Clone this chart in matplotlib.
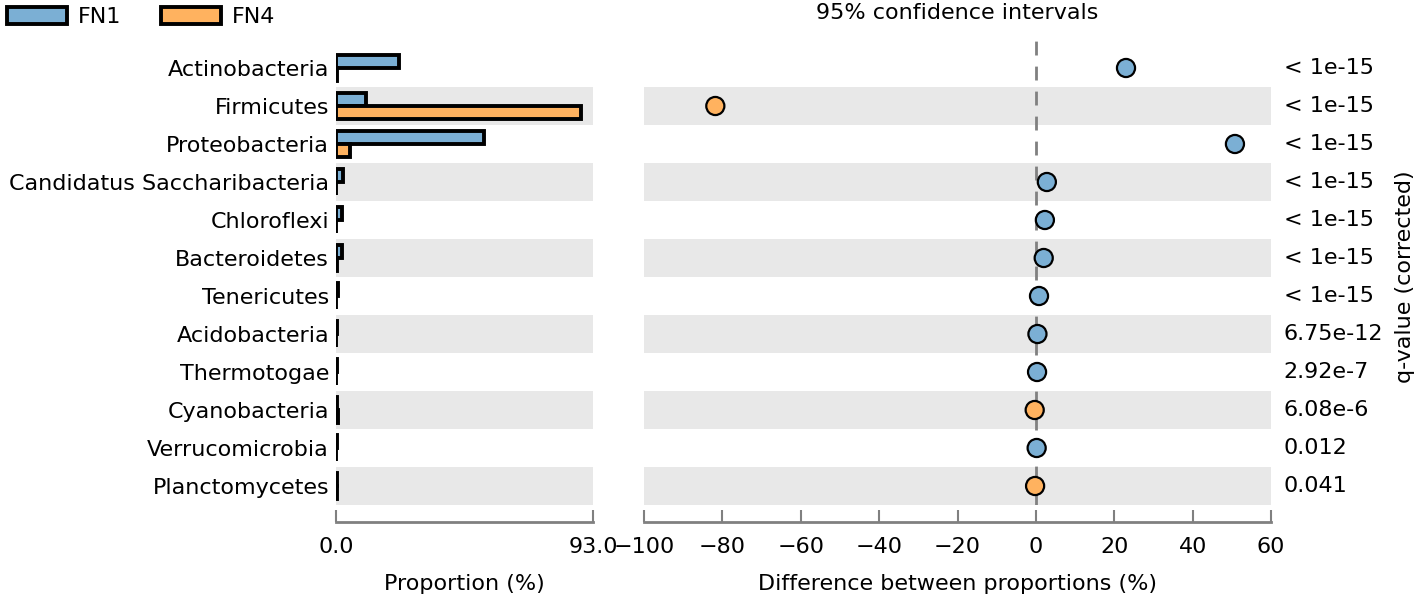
import numpy as np
import matplotlib
matplotlib.use("Agg")
import matplotlib.pyplot as plt
from matplotlib.patches import Patch

# phyla, top to bottom
taxa = ["Actinobacteria", "Firmicutes", "Proteobacteria", "Candidatus Saccharibacteria",
        "Chloroflexi", "Bacteroidetes", "Tenericutes", "Acidobacteria", "Thermotogae",
        "Cyanobacteria", "Verrucomicrobia", "Planctomycetes"]
fn1 = [22.8, 10.9, 53.6, 2.6, 2.0, 2.3, 0.8, 0.5, 0.3, 0.2, 0.2, 0.2]
fn4 = [0.2, 88.6, 5.2, 0.1, 0.1, 0.3, 0.1, 0.1, 0.05, 0.6, 0.05, 0.4]
diff = [23.0, -81.8, 50.8, 2.8, 2.3, 2.0, 0.8, 0.4, 0.3, -0.3, 0.2, -0.2]
ci_low = [22.5, -82.4, 50.2, 2.6, 2.1, 1.8, 0.7, 0.3, 0.2, -0.4, 0.1, -0.3]
ci_high = [23.5, -81.2, 51.4, 3.0, 2.5, 2.2, 0.9, 0.5, 0.4, -0.2, 0.3, -0.1]
qvals = ["< 1e-15"] * 7 + ["6.75e-12", "2.92e-7", "6.08e-6", "0.012", "0.041"]
prop_max = 93.0

blue = "#7BAFD4"
orange = "#FFB25F"
band = "#E8E8E8"
spine_col = "#808080"
fs = 16

plt.rcParams["font.family"] = "DejaVu Sans"
plt.rcParams["font.size"] = fs

fig = plt.figure(figsize=(14.18, 5.94), dpi=100)
W, H = 1418, 594
top_px, bot_px = 30, 505
ax1 = fig.add_axes([336 / W, 1 - bot_px / H, (593 - 336) / W, (bot_px - top_px) / H])
ax2 = fig.add_axes([644 / W, 1 - bot_px / H, (1271 - 644) / W, (bot_px - top_px) / H])

n = len(taxa)
y = np.arange(n)

for ax in (ax1, ax2):
    ax.set_ylim(n - 0.5, -1.0)
    for i in range(1, n, 2):
        ax.axhspan(i - 0.5, i + 0.5, color=band, zorder=0, lw=0)
    for s in ("left", "right", "top"):
        ax.spines[s].set_visible(False)
    ax.spines["bottom"].set_position(("outward", 12))
    ax.spines["bottom"].set_color(spine_col)
    ax.spines["bottom"].set_linewidth(2)
    ax.tick_params(axis="x", direction="in", length=9, width=1.5, color=spine_col, pad=11, labelsize=fs)
    ax.tick_params(axis="y", length=0)

# left: proportions
h = 0.33
ax1.barh(y - h / 2, fn1, height=h, color=blue, edgecolor="black", linewidth=2.8, zorder=2)
ax1.barh(y + h / 2, fn4, height=h, color=orange, edgecolor="black", linewidth=2.8, zorder=2)
ax1.set_xlim(0, prop_max)
ax1.set_xticks([0, prop_max])
ax1.set_xticklabels(["0.0", "93.0"])
ax1.set_yticks(y)
ax1.set_yticklabels(taxa, fontsize=fs)
ax1.tick_params(axis="y", pad=5)
ax1.set_xlabel("Proportion (%)", fontsize=fs, labelpad=12)

# right: difference with CI
ax2.axvline(0, color="#808080", ls=(0, (5, 4)), lw=2, zorder=1)
cols = [blue if d > 0 else orange for d in diff]
err = [np.array(diff) - np.array(ci_low), np.array(ci_high) - np.array(diff)]
ax2.errorbar(diff, y, xerr=err, fmt="none", ecolor="black", elinewidth=1.5, capsize=3, zorder=2)
ax2.scatter(diff, y, s=170, c=cols, edgecolors="black", linewidths=1.6, zorder=3)
ax2.set_xlim(-100, 60)
ax2.set_xticks(np.arange(-100, 61, 20))
ax2.set_yticks([])
ax2.set_xlabel("Difference between proportions (%)", fontsize=fs, labelpad=12)
ax2.set_title("95% confidence intervals", fontsize=fs, pad=8)

for i, q in enumerate(qvals):
    ax2.text(1.02, i, q, transform=ax2.get_yaxis_transform(), va="center", ha="left", fontsize=fs)

fig.text(1405 / W, 1 - 277 / H, "q-value (corrected)", rotation=90, va="center", ha="center", fontsize=fs)

handles = [Patch(facecolor=blue, edgecolor="black", linewidth=2.8, label="FN1"),
           Patch(facecolor=orange, edgecolor="black", linewidth=2.8, label="FN4")]
fig.legend(handles=handles, loc="upper left", bbox_to_anchor=(0.0, 1.0), ncol=2, frameon=False,
           fontsize=fs, handlelength=2.7, handleheight=0.8, handletextpad=0.5, columnspacing=1.8,
           borderpad=0.1, borderaxespad=0.2)

fig.savefig("out.png", dpi=100)
